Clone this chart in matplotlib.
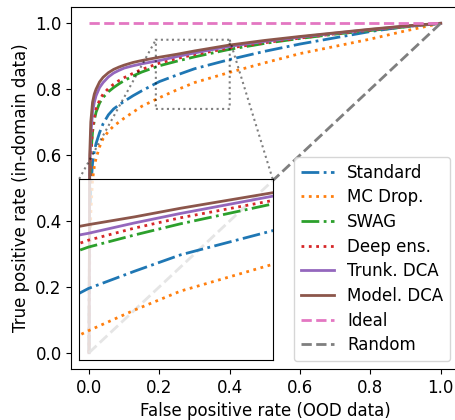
import matplotlib
matplotlib.use("Agg")
import matplotlib.pyplot as plt

plt.rcParams['font.size'] = 12

fpr = [0, 0.002, 0.005, 0.01, 0.015, 0.02, 0.03, 0.04, 0.055, 0.07, 0.085, 0.1, 0.125, 0.15, 0.2, 0.25, 0.3, 0.4, 0.5, 0.6, 0.7, 0.8, 0.9, 1.0]

tpr_standard = [0, 0.40, 0.50, 0.575, 0.61, 0.635, 0.668, 0.695, 0.722, 0.740, 0.752, 0.763, 0.780, 0.795, 0.823, 0.843, 0.862, 0.890, 0.915, 0.937, 0.956, 0.975, 0.990, 1.0]
tpr_mcdrop   = [0, 0.30, 0.42, 0.525, 0.565, 0.59, 0.625, 0.65, 0.672, 0.688, 0.700, 0.712, 0.730, 0.748, 0.774, 0.798, 0.820, 0.851, 0.880, 0.908, 0.930, 0.952, 0.977, 1.0]
tpr_swag     = [0, 0.50, 0.60, 0.67, 0.705, 0.73, 0.758, 0.775, 0.792, 0.805, 0.816, 0.826, 0.840, 0.852, 0.871, 0.885, 0.898, 0.921, 0.939, 0.954, 0.967, 0.978, 0.989, 1.0]
tpr_deepens  = [0, 0.50, 0.60, 0.68, 0.715, 0.74, 0.767, 0.785, 0.802, 0.815, 0.826, 0.835, 0.848, 0.860, 0.879, 0.893, 0.905, 0.925, 0.941, 0.955, 0.968, 0.979, 0.990, 1.0]
tpr_trunk    = [0, 0.55, 0.66, 0.73, 0.76, 0.78, 0.805, 0.82, 0.837, 0.849, 0.857, 0.864, 0.871, 0.877, 0.887, 0.899, 0.910, 0.930, 0.945, 0.958, 0.970, 0.981, 0.991, 1.0]
tpr_model    = [0, 0.60, 0.70, 0.76, 0.785, 0.80, 0.822, 0.836, 0.850, 0.860, 0.867, 0.873, 0.881, 0.887, 0.897, 0.906, 0.916, 0.934, 0.948, 0.960, 0.971, 0.982, 0.992, 1.0]

ideal_x = [0, 1]
ideal_y = [1, 1]
random_x = [0, 1]
random_y = [0, 1]

labels = ["Standard", "MC Drop.", "SWAG", "Deep ens.", "Trunk. DCA", "Model. DCA", "Ideal", "Random"]

series = [
    (fpr, tpr_standard, 'tab:blue', '-.'),
    (fpr, tpr_mcdrop, 'tab:orange', ':'),
    (fpr, tpr_swag, 'tab:green', '-.'),
    (fpr, tpr_deepens, 'tab:red', ':'),
    (fpr, tpr_trunk, 'tab:purple', '-'),
    (fpr, tpr_model, 'tab:brown', '-'),
    (ideal_x, ideal_y, 'tab:pink', '--'),
    (random_x, random_y, 'tab:gray', '--'),
]

fig = plt.figure(figsize=(4.55, 4.2), dpi=100)
ax = fig.add_axes([0.157, 0.121, 0.8503, 0.8628])

for (x, y, c, ls), lab in zip(series, labels):
    ax.plot(x, y, color=c, linestyle=ls, linewidth=2, label=lab)

ax.set_xlabel('False positive rate (OOD data)')
ax.set_ylabel('True positive rate (in-domain data)')
ax.set_xlim(-0.05, 1.05)
ax.set_ylim(-0.05, 1.05)
ax.set_xticks([0, 0.2, 0.4, 0.6, 0.8, 1.0])
ax.set_yticks([0, 0.2, 0.4, 0.6, 0.8, 1.0])

ax.legend(loc='lower right', labelspacing=0.4)

axins = ax.inset_axes([0.02, 0.025, 0.5, 0.5])
axins.patch.set_alpha(0.8)
for (x, y, c, ls), lab in zip(series, labels):
    axins.plot(x, y, color=c, linestyle=ls, linewidth=2)
axins.set_xlim(0.19, 0.40)
axins.set_ylim(0.74, 0.95)
axins.set_xticks([])
axins.set_yticks([])
ax.indicate_inset_zoom(axins, edgecolor='black', linestyle=':', linewidth=1.5, alpha=0.5)

fig.savefig('out.png', dpi=100)
